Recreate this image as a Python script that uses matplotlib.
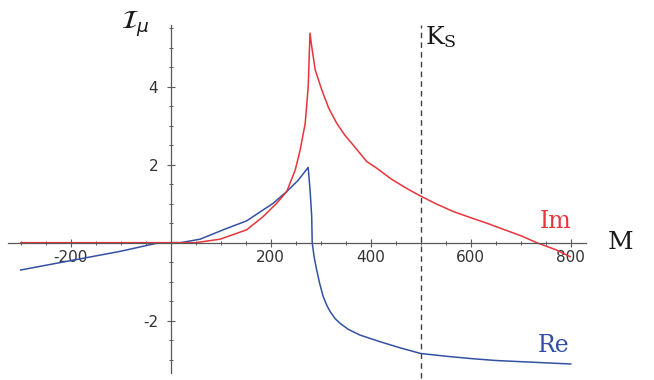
import matplotlib
matplotlib.use("Agg")
import matplotlib.pyplot as plt
import numpy as np

# Re part (blue)
re_m = [-300, -200, -100, -30, 0, 20, 59, 105, 152, 205, 232, 255, 275,
        279, 282, 283, 287, 292, 298, 305, 312, 319, 329, 339, 355, 379, 419,
        460, 500, 550, 600, 650, 700, 750, 800]
re_v = [-0.70, -0.46, -0.22, -0.02, 0.0, 0.0, 0.09, 0.33, 0.56, 1.01, 1.31,
        1.60, 1.93, 1.30, 0.67, 0.00, -0.38, -0.70, -1.05, -1.38, -1.60,
        -1.77, -1.95, -2.07, -2.22, -2.37, -2.54, -2.70, -2.84, -2.91, -2.97,
        -3.02, -3.05, -3.08, -3.11]

# Im part (red)
im_m = [-300, -200, -100, 0, 50, 99, 152, 185, 212, 232, 249, 259, 269,
        275, 278.6, 282, 289, 302, 316, 332, 348, 365, 392, 412, 440, 472,
        499, 530, 565, 600, 632, 670, 700, 732, 770, 799]
im_v = [0.0, 0.0, 0.0, 0.0, 0.0, 0.09, 0.33, 0.67, 1.01, 1.31, 1.86, 2.38,
        3.06, 4.00, 5.37, 5.03, 4.43, 3.92, 3.45, 3.06, 2.76, 2.50, 2.08,
        1.91, 1.64, 1.39, 1.20, 1.00, 0.80, 0.64, 0.50, 0.32, 0.18, 0.00,
        -0.18, -0.36]

ks = 500
xticks = [-200, 200, 400, 600, 800]
yticks = [-2, 2, 4]

RED = "#e8343a"
BLUE = "#3350a4"
AXC = "0.35"

plt.rcParams["axes.unicode_minus"] = False

fig = plt.figure(figsize=(6.54, 3.8), dpi=100)
ax = fig.add_axes([0, 0, 1, 1])
ax.set_xlim(-341.4, 966.6)
ax.set_ylim(-3.52, 6.22)

for side in ("top", "right"):
    ax.spines[side].set_visible(False)
ax.spines["left"].set_position(("data", 0))
ax.spines["bottom"].set_position(("data", 0))
ax.spines["left"].set_bounds(-3.33, 5.58)
ax.spines["bottom"].set_bounds(-325, 830)
for side in ("left", "bottom"):
    ax.spines[side].set_color(AXC)
    ax.spines[side].set_linewidth(0.9)

ax.set_xticks(xticks)
ax.set_yticks(yticks)
ax.set_xticks(np.arange(-300, 801, 50), minor=True)
ax.set_yticks(np.arange(-3, 5.51, 0.5), minor=True)
ax.tick_params(axis="both", which="major", direction="inout", length=6,
               width=0.8, color=AXC, labelsize=11, labelcolor="0.2")
ax.tick_params(axis="both", which="minor", direction="inout", length=3.5,
               width=0.7, color=AXC)
ax.tick_params(axis="x", pad=2)
ax.tick_params(axis="y", pad=6)

# K_S marker
ax.axvline(ks, ymin=0.005, ymax=0.934, color="0.25", ls=(0, (4, 3)), lw=1.0)

ax.plot(re_m, re_v, color=BLUE, lw=1.1)
ax.plot(im_m, im_v, color=RED, lw=1.1)

serif = "DejaVu Serif"
ax.text(769, 0.55, "Im", color=RED, fontsize=17, family=serif,
        ha="center", va="center")
ax.text(765, -2.63, "Re", color=BLUE, fontsize=17, family=serif,
        ha="center", va="center")
ax.text(899, 0.0, "M", color="0.1", fontsize=18, family=serif,
        ha="center", va="center")
ax.text(508, 4.95, r"$\mathregular{K_S}$", color="0.1", fontsize=18,
        family=serif, ha="left", va="bottom")
ax.text(-72, 5.22, r"$\mathcal{I}_\mu$", color="0.1", fontsize=19,
        ha="center", va="bottom")

fig.savefig("out.png", dpi=100)
